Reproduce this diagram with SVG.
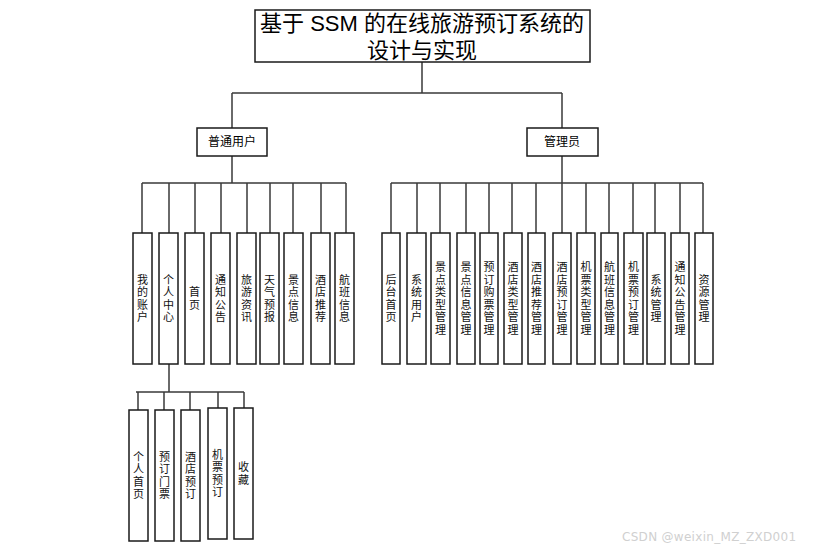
<svg xmlns="http://www.w3.org/2000/svg" width="826" height="553" viewBox="0 0 826 553">
<style>
.box{fill:#fff;stroke:#1a1a1a;stroke-width:1.5}
.ln{fill:none;stroke:#3a3a3a;stroke-width:1.5}
.t{font-family:"Noto Sans CJK SC","Liberation Sans",sans-serif;font-size:11px;fill:#111;text-anchor:middle;writing-mode:vertical-rl;letter-spacing:1.5px}
.h{font-family:"Noto Sans CJK SC","Liberation Sans",sans-serif;font-size:12px;fill:#000;text-anchor:middle}
.title{font-family:"Liberation Sans","Noto Sans CJK SC",sans-serif;font-size:22px;fill:#000;text-anchor:middle}
</style>
<rect width="826" height="553" fill="#fff"/>
<g id="connectors">
<path class="ln" d="M422 62V93M232 93H562M232 93V128M562 93V128"/>
<path class="ln" d="M232 156V183M142 183H346M142 183V233M169 183V233M195 183V233M221 183V233M247 183V233M270 183V233M293 183V233M321 183V233M346 183V233"/>
<path class="ln" d="M562 156V183M391 183H703M391 183V233M417 183V233M440 183V233M466 183V233M489 183V233M512 183V233M536 183V233M562 183V233M586 183V233M609 183V233M633 183V233M655 183V233M680 183V233M703 183V233"/>
<path class="ln" d="M169 364V392M136 392H244M138 392V410M164 392V410M190 392V410M218 392V408M244 392V408"/>
</g>
<g id="root"><rect class="box" x="255" y="10" width="335" height="52"/>
<text class="title"><tspan x="422" y="31">基于 SSM 的在线旅游预订系统的</tspan><tspan x="422" y="58">设计与实现</tspan></text></g>
<g id="user"><rect class="box" x="197" y="128" width="70" height="28"/><text class="h" x="232" y="146">普通用户</text></g>
<g id="admin"><rect class="box" x="527" y="128" width="71" height="28"/><text class="h" x="562" y="146">管理员</text></g>

<g id="u1"><rect class="box" x="133" y="233" width="19" height="131"/><text class="t" x="142.5" y="299">我的账户</text></g>
<g id="u2"><rect class="box" x="159" y="233" width="19" height="131"/><text class="t" x="168.5" y="299">个人中心</text></g>
<g id="u3"><rect class="box" x="185" y="233" width="19" height="131"/><text class="t" x="194.5" y="299">首页</text></g>
<g id="u4"><rect class="box" x="211" y="233" width="19" height="131"/><text class="t" x="220.5" y="299">通知公告</text></g>
<g id="u5"><rect class="box" x="237" y="233" width="19" height="131"/><text class="t" x="246.5" y="299">旅游资讯</text></g>
<g id="u6"><rect class="box" x="260" y="233" width="19" height="131"/><text class="t" x="269.5" y="299">天气预报</text></g>
<g id="u7"><rect class="box" x="284" y="233" width="19" height="131"/><text class="t" x="293.5" y="299">景点信息</text></g>
<g id="u8"><rect class="box" x="311" y="233" width="19" height="131"/><text class="t" x="320.5" y="299">酒店推荐</text></g>
<g id="u9"><rect class="box" x="335" y="233" width="19" height="131"/><text class="t" x="344.5" y="299">航班信息</text></g>

<g id="a1"><rect class="box" x="382" y="233" width="18" height="131"/><text class="t" x="391" y="299">后台首页</text></g>
<g id="a2"><rect class="box" x="407" y="233" width="19" height="131"/><text class="t" x="416.5" y="299">系统用户</text></g>
<g id="a3"><rect class="box" x="431" y="233" width="19" height="131"/><text class="t" x="440.5" y="299">景点类型管理</text></g>
<g id="a4"><rect class="box" x="457" y="233" width="18" height="131"/><text class="t" x="466" y="299">景点信息管理</text></g>
<g id="a5"><rect class="box" x="480" y="233" width="18" height="131"/><text class="t" x="489" y="299">预订购票管理</text></g>
<g id="a6"><rect class="box" x="504" y="233" width="18" height="131"/><text class="t" x="513" y="299">酒店类型管理</text></g>
<g id="a7"><rect class="box" x="528" y="233" width="17" height="131"/><text class="t" x="536.5" y="299">酒店推荐管理</text></g>
<g id="a8"><rect class="box" x="553" y="233" width="18" height="131"/><text class="t" x="562" y="299">酒店预订管理</text></g>
<g id="a9"><rect class="box" x="577" y="233" width="18" height="131"/><text class="t" x="586" y="299">机票类型管理</text></g>
<g id="a10"><rect class="box" x="601" y="233" width="17" height="131"/><text class="t" x="609.5" y="299">航班信息管理</text></g>
<g id="a11"><rect class="box" x="624" y="233" width="19" height="131"/><text class="t" x="633.5" y="299">机票预订管理</text></g>
<g id="a12"><rect class="box" x="647" y="233" width="18" height="131"/><text class="t" x="656" y="299">系统管理</text></g>
<g id="a13"><rect class="box" x="671" y="233" width="18" height="131"/><text class="t" x="680" y="299">通知公告管理</text></g>
<g id="a14"><rect class="box" x="695" y="233" width="18" height="131"/><text class="t" x="704" y="299">资源管理</text></g>

<g id="c1"><rect class="box" x="129" y="410" width="19" height="131"/><text class="t" x="138.5" y="476">个人首页</text></g>
<g id="c2"><rect class="box" x="155" y="410" width="19" height="131"/><text class="t" x="164.5" y="476">预订门票</text></g>
<g id="c3"><rect class="box" x="181" y="410" width="19" height="131"/><text class="t" x="190.5" y="476">酒店预订</text></g>
<g id="c4"><rect class="box" x="208" y="408" width="19" height="131"/><text class="t" x="217.5" y="474">机票预订</text></g>
<g id="c5"><rect class="box" x="234" y="408" width="19" height="131"/><text class="t" x="243.5" y="474">收藏</text></g>

<text x="622" y="541" style="font-family:'DejaVu Sans',sans-serif;font-size:12px;fill:#d0d0d0;letter-spacing:0.3px">CSDN @weixin_MZ_ZXD001</text>
</svg>
